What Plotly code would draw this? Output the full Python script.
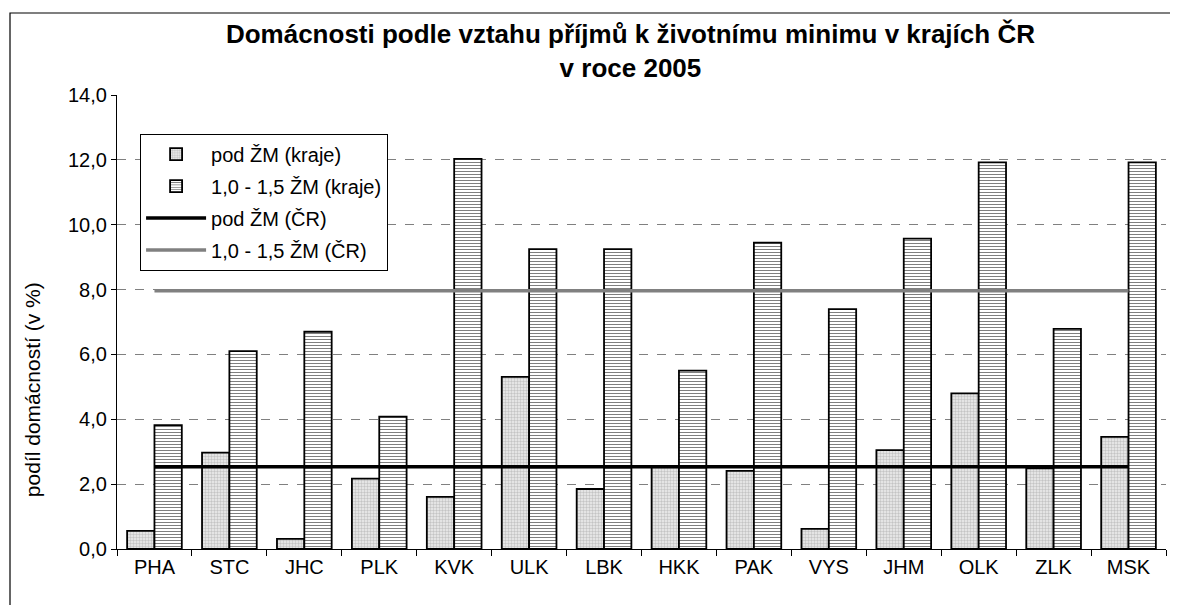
import plotly.graph_objects as go

regions = ["PHA", "STC", "JHC", "PLK", "KVK", "ULK", "LBK", "HKK", "PAK", "VYS", "JHM", "OLK", "ZLK", "MSK"]
pod_zm_kraje = [0.56, 2.97, 0.31, 2.17, 1.61, 5.31, 1.85, 2.54, 2.41, 0.62, 3.05, 4.80, 2.49, 3.46]
zm_10_15_kraje = [3.82, 6.10, 6.70, 4.08, 12.03, 9.25, 9.25, 5.50, 9.45, 7.40, 9.57, 11.92, 6.79, 11.92]
pod_zm_cr = 2.54
zm_10_15_cr = 7.96

FONT = "Liberation Sans, Arial, sans-serif"

fig = go.Figure()
fig.add_trace(go.Bar(
    x=regions, y=pod_zm_kraje, name="pod ŽM (kraje)", legendgroup="a",
    marker=dict(color="white", line=dict(color="black", width=1.8),
                pattern=dict(shape=".", fgcolor="#9a9a9a", bgcolor="#eeeeee", size=3, solidity=0.5)),
))
fig.add_trace(go.Bar(
    x=regions, y=zm_10_15_kraje, name="1,0 - 1,5 ŽM (kraje)", legendgroup="b",
    marker=dict(color="white", line=dict(color="black", width=1.8),
                pattern=dict(shape="-", fgcolor="black", bgcolor="white", size=3, solidity=0.35)),
))
fig.add_trace(go.Scatter(
    x=regions, y=[pod_zm_cr] * len(regions), name="pod ŽM (ČR)", legendgroup="c",
    mode="lines", line=dict(color="black", width=3.5),
))
fig.add_trace(go.Scatter(
    x=regions, y=[zm_10_15_cr] * len(regions), name="1,0 - 1,5 ŽM (ČR)", legendgroup="d",
    mode="lines", line=dict(color="#808080", width=3.5),
))

# page body has an 8px margin at left/top, so the figure is 8px smaller there
fig.update_layout(
    width=1170, height=597,
    margin=dict(l=109, r=12, t=87, b=56, autoexpand=False),
    paper_bgcolor="white", plot_bgcolor="white",
    font=dict(family=FONT, size=20, color="black"),
    separators=", ",
    barmode="group", bargap=0.27, bargroupgap=0,
    title=dict(
        text="<b>Domácnosti podle vztahu příjmů k životnímu minimu v krajích ČR<br>v roce 2005</b>",
        x=0.532, xanchor="center", y=0.941, yanchor="middle", yref="container",
        font=dict(family=FONT, size=26, color="black"),
    ),
    legend=dict(
        x=0.022, y=0.915, xanchor="left", yanchor="top",
        bordercolor="black", borderwidth=1, bgcolor="white",
        font=dict(family=FONT, size=20), tracegroupgap=3,
        itemwidth=60,
    ),
    showlegend=True,
)
fig.update_xaxes(
    showline=True, linecolor="black", linewidth=1.2,
    ticks="outside", tickson="boundaries", ticklen=6, tickcolor="black",
    showgrid=False, tickfont=dict(family=FONT, size=20),
)
fig.update_yaxes(
    range=[0, 14], dtick=2, tickformat=".1f",
    showline=True, linecolor="black", linewidth=1.2,
    ticks="outside", ticklen=5, tickcolor="black",
    showgrid=True, gridcolor="#808080", griddash="dash", gridwidth=1.2,
    zeroline=False,
    tickfont=dict(family=FONT, size=20),
)
fig.add_annotation(
    text="podíl domácností (v %)", textangle=-90,
    xref="paper", yref="paper", x=-0.081, y=0.35,
    xanchor="center", yanchor="middle", showarrow=False,
    font=dict(family=FONT, size=21, color="black"),
)
# outer chart border (bottom edge lies below the visible page)
fig.add_shape(type="rect", xref="paper", yref="paper",
              x0=-0.102, x1=1.0105, y0=-0.2, y1=1.1806,
              line=dict(color="black", width=1.2), fillcolor="rgba(0,0,0,0)", layer="above")

fig.write_html("out.html")
